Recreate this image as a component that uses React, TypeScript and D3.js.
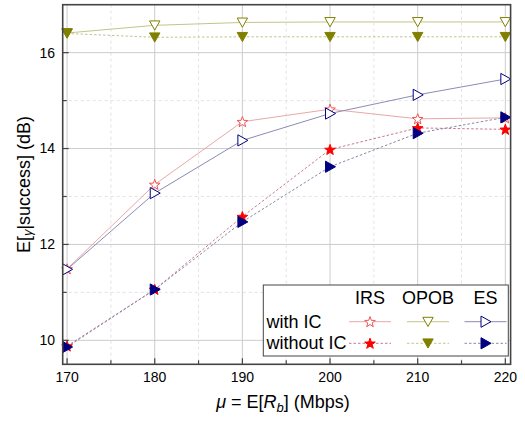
import React from "react";
import * as d3 from "d3";

const xValues = [170, 180, 190, 200, 210, 220];
const irsWith = [11.49, 13.25, 14.56, 14.82, 14.62, 14.64];
const irsWithout = [9.88, 11.06, 12.58, 13.98, 14.43, 14.40];
const opobWith = [16.41, 16.57, 16.63, 16.64, 16.64, 16.64];
const opobWithout = [16.40, 16.32, 16.33, 16.33, 16.33, 16.33];
const esWith = [11.48, 13.07, 14.17, 14.73, 15.12, 15.45];
const esWithout = [9.86, 11.06, 12.47, 13.62, 14.32, 14.65];
const xTicks = [170, 180, 190, 200, 210, 220];
const xMinor = [175, 185, 195, 205, 215];
const yTicks = [10, 12, 14, 16];
const yMinor = [11, 13, 15];

const W = 525;
const H = 421;
const L = 62.7, R = 510.6, T = 4.7, B = 364.3;

const x = d3.scaleLinear().domain([169.5, 220.6]).range([L, R]);
const y = d3.scaleLinear().domain([9.5, 17]).range([B, T]);

type Shape = "star" | "down" | "right";

function markerPath(shape: Shape): string {
  if (shape === "star") {
    const outer = 5.6, inner = 2.3;
    const pts: string[] = [];
    for (let i = 0; i < 10; i++) {
      const r = i % 2 === 0 ? outer : inner;
      const a = -Math.PI / 2 + (i * Math.PI) / 5;
      pts.push(`${(r * Math.cos(a)).toFixed(2)},${(r * Math.sin(a) + 0.5).toFixed(2)}`);
    }
    return "M" + pts.join("L") + "Z";
  }
  if (shape === "down") {
    return "M-5.2,-4.4L5.2,-4.4L0,4.8Z";
  }
  return "M-4.5,-5.6L5.5,0L-4.5,5.6Z";
}

function Marker({ cx, cy, shape, filled, color }: { cx: number; cy: number; shape: Shape; filled: boolean; color: string }) {
  return (
    <path
      d={markerPath(shape)}
      transform={`translate(${cx},${cy})`}
      fill={filled ? color : "white"}
      stroke={color}
      strokeWidth={1}
    />
  );
}

const series = [
  { data: irsWith, shape: "star" as Shape, filled: false, mColor: "#ee5555", lColor: "#e8a8a8", dash: "" },
  { data: opobWith, shape: "down" as Shape, filled: false, mColor: "#808000", lColor: "#c4c48c", dash: "" },
  { data: esWith, shape: "right" as Shape, filled: false, mColor: "#000080", lColor: "#8c8cb4", dash: "" },
  { data: irsWithout, shape: "star" as Shape, filled: true, mColor: "#ff0000", lColor: "#c87890", dash: "2.5,2" },
  { data: opobWithout, shape: "down" as Shape, filled: true, mColor: "#808000", lColor: "#c4c48c", dash: "2.5,2" },
  { data: esWithout, shape: "right" as Shape, filled: true, mColor: "#000080", lColor: "#8888a8", dash: "2.5,2" },
];

const line = d3
  .line<number>()
  .x((_, i) => x(xValues[i]))
  .y((d) => y(d));

export default function App() {
  const font = "Liberation Sans, Arial, sans-serif";
  const frame = "#444";
  const legX = 263.3, legY = 285, legW = 245, legH = 71;
  const colCenters = [370, 428, 485.5];
  const headerNames = ["IRS", "OPOB", "ES"];
  const rowYs = [321.7, 343.3];
  return (
    <svg width={W} height={H} style={{ position: "absolute", left: 0, top: 0 }} fontFamily={font}>
      <rect x={0} y={0} width={W} height={H} fill="white" />
      {xMinor.map((v) => (
        <line key={"xm" + v} x1={x(v)} x2={x(v)} y1={T} y2={B} stroke="#dcdcdc" strokeWidth={0.8} strokeDasharray="3,3" />
      ))}
      {yMinor.map((v) => (
        <line key={"ym" + v} x1={L} x2={R} y1={y(v)} y2={y(v)} stroke="#dcdcdc" strokeWidth={0.8} strokeDasharray="3,3" />
      ))}
      {xTicks.map((v) => (
        <line key={"xg" + v} x1={x(v)} x2={x(v)} y1={T} y2={B} stroke="#cccccc" strokeWidth={1} />
      ))}
      {yTicks.map((v) => (
        <line key={"yg" + v} x1={L} x2={R} y1={y(v)} y2={y(v)} stroke="#cccccc" strokeWidth={1} />
      ))}
      {series.map((s, i) => (
        <path key={"l" + i} d={line(s.data) || ""} fill="none" stroke={s.lColor} strokeWidth={1} strokeDasharray={s.dash || undefined} />
      ))}
      {series.map((s, i) =>
        s.data.map((v, j) => (
          <Marker key={"m" + i + "-" + j} cx={x(xValues[j])} cy={y(v)} shape={s.shape} filled={s.filled} color={s.mColor} />
        ))
      )}
      <rect x={L} y={T} width={R - L} height={B - T} fill="none" stroke={frame} strokeWidth={1.6} />
      {xTicks.map((v) => (
        <line key={"xt" + v} x1={x(v)} x2={x(v)} y1={B} y2={B - 6} stroke={frame} strokeWidth={1.2} />
      ))}
      {xMinor.map((v) => (
        <line key={"xtm" + v} x1={x(v)} x2={x(v)} y1={B} y2={B - 4} stroke={frame} strokeWidth={1.2} />
      ))}
      {yTicks.map((v) => (
        <line key={"yt" + v} x1={L} x2={L + 6} y1={y(v)} y2={y(v)} stroke={frame} strokeWidth={1.2} />
      ))}
      {yMinor.map((v) => (
        <line key={"ytm" + v} x1={L} x2={L + 4} y1={y(v)} y2={y(v)} stroke={frame} strokeWidth={1.2} />
      ))}
      {xTicks.map((v) => (
        <text key={"xl" + v} x={x(v)} y={381.5} fontSize={14} textAnchor="middle" fill="#000">
          {v}
        </text>
      ))}
      {yTicks.map((v) => (
        <text key={"yl" + v} x={55} y={y(v)} dy="0.35em" fontSize={14} textAnchor="end" fill="#000">
          {v}
        </text>
      ))}
      <text x={283} y={408} fontSize={18} textAnchor="middle" fill="#000">
        <tspan fontStyle="italic">μ</tspan>
        <tspan> = E[</tspan>
        <tspan fontStyle="italic">R</tspan>
        <tspan fontStyle="italic" fontSize={13} dy={4}>b</tspan>
        <tspan dy={-4}>] (Mbps)</tspan>
      </text>
      <text transform={`translate(30,${(T + B) / 2}) rotate(-90)`} fontSize={18} textAnchor="middle" fill="#000">
        <tspan>E[</tspan>
        <tspan fontStyle="italic" fontSize={13} dy={2}>γ</tspan>
        <tspan dy={-2}>|success] (dB)</tspan>
      </text>
      <rect x={legX} y={legY} width={legW} height={legH} fill="white" stroke={frame} strokeWidth={1} />
      {headerNames.map((n, i) => (
        <text key={"h" + n} x={colCenters[i]} y={304} fontSize={18} textAnchor="middle" fill="#000">
          {n}
        </text>
      ))}
      <text x={266.5} y={327.5} fontSize={18} fill="#000">with IC</text>
      <text x={266.5} y={349} fontSize={18} fill="#000">without IC</text>
      {series.map((s, i) => {
        const col = i % 3;
        const row = Math.floor(i / 3);
        const cx = colCenters[col];
        const cy = rowYs[row];
        return (
          <g key={"lg" + i}>
            <line x1={cx - 21} x2={cx + 21} y1={cy} y2={cy} stroke={s.lColor} strokeWidth={1} strokeDasharray={s.dash || undefined} />
            <Marker cx={cx} cy={cy} shape={s.shape} filled={s.filled} color={s.mColor} />
          </g>
        );
      })}
    </svg>
  );
}
